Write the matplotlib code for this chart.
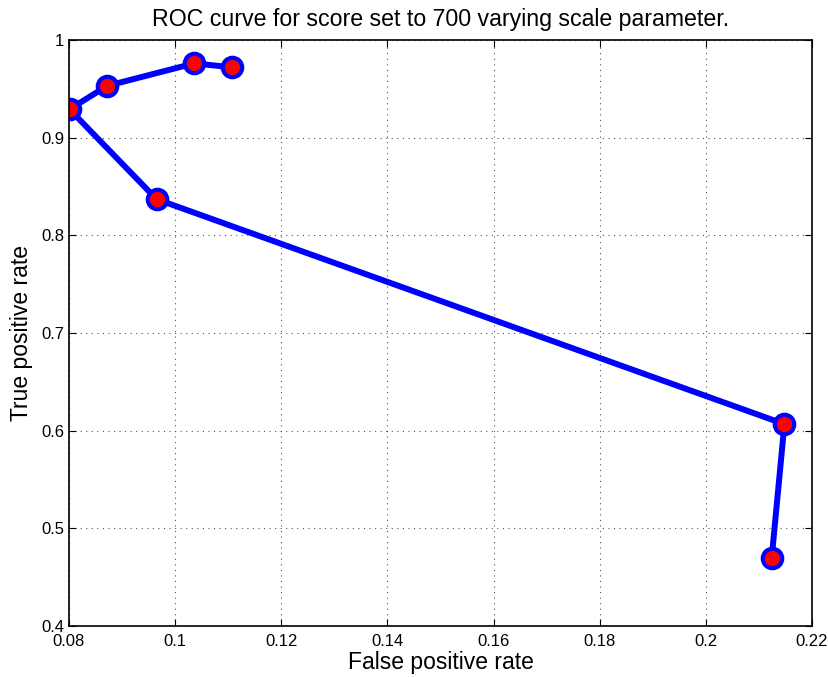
import matplotlib
matplotlib.use('Agg')
import matplotlib.pyplot as plt

# Datos
fpr = [0.1107, 0.1036, 0.0872, 0.0801, 0.0965, 0.2148, 0.2124]
tpr = [0.972, 0.976, 0.953, 0.929, 0.837, 0.6067, 0.4695]

x_ticks = [0.08, 0.1, 0.12, 0.14, 0.16, 0.18, 0.2, 0.22]
x_labels = ['0.08', '0.1', '0.12', '0.14', '0.16', '0.18', '0.2', '0.22']
y_ticks = [0.4, 0.5, 0.6, 0.7, 0.8, 0.9, 1.0]
y_labels = ['0.4', '0.5', '0.6', '0.7', '0.8', '0.9', '1']

plt.rcParams['font.family'] = ['Liberation Sans', 'DejaVu Sans']

fig = plt.figure(figsize=(8.29, 6.77), dpi=100)
ax = fig.add_axes([0.0832, 0.0753, 0.8963, 0.8657])

ax.plot(fpr, tpr, color='#0000ff', linewidth=4.3, marker='o', markersize=14,
        markerfacecolor='#ff0000', markeredgecolor='#0000ff', markeredgewidth=3)

ax.set_xlim(0.08, 0.22)
ax.set_ylim(0.4, 1.0)
ax.set_xticks(x_ticks)
ax.set_xticklabels(x_labels)
ax.set_yticks(y_ticks)
ax.set_yticklabels(y_labels)
ax.tick_params(direction='in', top=True, right=True, labelsize=12, length=5)
ax.tick_params(axis='x', pad=6)
ax.grid(True, linestyle=(0, (1, 4)), color='#555555', linewidth=0.8)
for s in ax.spines.values():
    s.set_linewidth(1.2)

ax.set_xlabel('False positive rate', fontsize=16.5, labelpad=1)
ax.set_ylabel('True positive rate', fontsize=16.5, labelpad=6)
ax.set_title('ROC curve for score set to 700 varying scale parameter.', fontsize=16.7, pad=10)

plt.savefig('out.png', dpi=100)
